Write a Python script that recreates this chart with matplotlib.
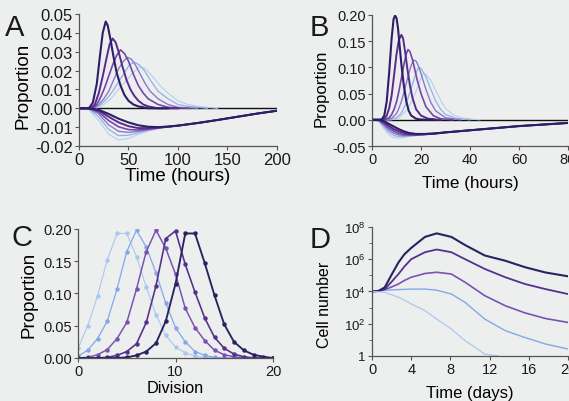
import numpy as np
import matplotlib
matplotlib.use("Agg")
import matplotlib.pyplot as plt
from matplotlib.ticker import FixedLocator, NullFormatter

plt.rcParams["font.family"] = ["Liberation Sans", "DejaVu Sans"]
plt.rcParams["mathtext.default"] = "regular"

BG = "#edefee"

# ---- Panel A: proportion vs time (hours), positive and negative responses ----
A_pos_t = [
    [0, 10, 14, 18, 21, 24, 27, 29, 32, 35, 38, 42, 46, 50, 55, 60, 70, 90],
    [0, 12, 16, 20, 24, 28, 31, 34, 37, 40, 44, 48, 52, 56, 60, 65, 70, 80, 100],
    [0, 14, 18, 22, 26, 30, 34, 38, 42, 46, 50, 55, 60, 65, 70, 80, 90, 110],
    [0, 15, 20, 25, 30, 35, 40, 45, 49, 53, 57, 62, 67, 72, 80, 90, 100, 120],
    [0, 16, 22, 28, 34, 40, 46, 51, 56, 61, 66, 72, 80, 90, 100, 110, 130],
    [0, 18, 25, 32, 40, 48, 55, 61, 67, 74, 82, 90, 100, 110, 120, 140],
]
A_pos_y = [
    [0, 0, 0.003, 0.013, 0.027, 0.040, 0.046, 0.044, 0.036, 0.027, 0.019, 0.012, 0.007, 0.004, 0.002, 0.001, 0, 0],
    [0, 0, 0.002, 0.008, 0.017, 0.027, 0.034, 0.037, 0.035, 0.030, 0.022, 0.015, 0.010, 0.0065, 0.004, 0.002, 0.001, 0, 0],
    [0, 0, 0.002, 0.006, 0.011, 0.017, 0.023, 0.028, 0.031, 0.029, 0.025, 0.018, 0.012, 0.008, 0.005, 0.002, 0.0005, 0],
    [0, 0, 0.002, 0.005, 0.009, 0.015, 0.021, 0.025, 0.027, 0.026, 0.023, 0.018, 0.013, 0.009, 0.005, 0.002, 0.0005, 0],
    [0, 0, 0.002, 0.005, 0.009, 0.014, 0.019, 0.023, 0.0245, 0.023, 0.020, 0.015, 0.009, 0.005, 0.002, 0.001, 0],
    [0, 0, 0.002, 0.005, 0.010, 0.015, 0.019, 0.022, 0.021, 0.017, 0.012, 0.008, 0.004, 0.002, 0.001, 0],
]
A_neg_t = [0, 10, 20, 30, 40, 50, 60, 70, 80, 90, 100, 120, 140, 160, 180, 200]
A_neg_y = [
    [0, 0, -0.0008, -0.0030, -0.0055, -0.0075, -0.0090, -0.0098, -0.0100, -0.0097, -0.0092, -0.0078, -0.0062, -0.0045, -0.0028, -0.0013],
    [0, 0, -0.0012, -0.0045, -0.0075, -0.0095, -0.0105, -0.0105, -0.0102, -0.0097, -0.0092, -0.0078, -0.0062, -0.0045, -0.0028, -0.0013],
    [0, 0, -0.0020, -0.0065, -0.0098, -0.0113, -0.0115, -0.0110, -0.0104, -0.0098, -0.0092, -0.0078, -0.0062, -0.0045, -0.0028, -0.0013],
    [0, 0, -0.0030, -0.0088, -0.0122, -0.0128, -0.0122, -0.0113, -0.0105, -0.0098, -0.0092, -0.0078, -0.0062, -0.0045, -0.0028, -0.0013],
    [0, -0.0003, -0.0045, -0.0112, -0.0145, -0.0143, -0.0130, -0.0117, -0.0107, -0.0099, -0.0092, -0.0078, -0.0062, -0.0045, -0.0028, -0.0013],
    [0, -0.0008, -0.0065, -0.0138, -0.0168, -0.0160, -0.0138, -0.0120, -0.0108, -0.0099, -0.0092, -0.0078, -0.0062, -0.0045, -0.0028, -0.0013],
]

# ---- Panel B: same, shorter time scale ----
B_pos_t = [
    [0, 3, 4, 5, 6, 7, 8, 8.8, 9.4, 10, 10.6, 11.2, 12, 13, 14, 15, 16, 18, 20, 25],
    [0, 4, 5, 6, 7, 8, 9, 10, 11, 12, 12.7, 13.5, 14.5, 15.5, 16.5, 18, 20, 23, 28],
    [0, 5, 7, 8, 9, 10, 11, 12, 13, 14, 14.7, 15.5, 16.5, 17.5, 18.5, 20, 22, 25, 28, 33],
    [0, 6, 8, 10, 11, 12, 13, 14, 15, 16, 17, 18, 19, 20, 22, 24, 26, 30, 36],
    [0, 7, 10, 12, 14, 16, 18, 19, 20, 22, 24, 26, 28, 30, 34, 40],
    [0, 8, 11, 14, 16, 18, 20, 21, 22, 24, 26, 28, 30, 33, 37, 44],
]
B_pos_y = [
    [0, 0, 0.001, 0.008, 0.035, 0.090, 0.155, 0.192, 0.199, 0.194, 0.175, 0.145, 0.105, 0.065, 0.035, 0.017, 0.008, 0.002, 0.0005, 0],
    [0, 0, 0.002, 0.008, 0.022, 0.046, 0.085, 0.125, 0.153, 0.162, 0.155, 0.130, 0.095, 0.065, 0.042, 0.020, 0.008, 0.002, 0],
    [0, 0, 0.004, 0.010, 0.020, 0.034, 0.055, 0.080, 0.105, 0.126, 0.134, 0.130, 0.115, 0.095, 0.075, 0.050, 0.025, 0.008, 0.002, 0],
    [0, 0, 0.003, 0.012, 0.022, 0.035, 0.052, 0.070, 0.088, 0.104, 0.114, 0.112, 0.102, 0.088, 0.058, 0.033, 0.017, 0.004, 0],
    [0, 0, 0.004, 0.013, 0.032, 0.060, 0.090, 0.100, 0.098, 0.082, 0.058, 0.036, 0.020, 0.010, 0.003, 0],
    [0, 0, 0.004, 0.017, 0.033, 0.055, 0.080, 0.088, 0.087, 0.075, 0.056, 0.037, 0.022, 0.010, 0.003, 0],
]
B_neg_t = [0, 3, 5, 7, 9, 11, 13, 15, 18, 22, 26, 30, 40, 50, 60, 70, 80]
B_neg_y = [
    [0, 0, -0.003, -0.008, -0.013, -0.018, -0.022, -0.025, -0.027, -0.027, -0.026, -0.024, -0.020, -0.016, -0.012, -0.009, -0.006],
    [0, -0.0005, -0.005, -0.012, -0.018, -0.022, -0.025, -0.027, -0.028, -0.027, -0.026, -0.024, -0.020, -0.016, -0.012, -0.009, -0.006],
    [0, -0.001, -0.008, -0.016, -0.022, -0.026, -0.028, -0.029, -0.029, -0.028, -0.026, -0.024, -0.020, -0.016, -0.012, -0.009, -0.006],
    [0, -0.002, -0.011, -0.020, -0.026, -0.029, -0.030, -0.030, -0.029, -0.028, -0.026, -0.024, -0.020, -0.016, -0.012, -0.009, -0.006],
    [0, -0.003, -0.014, -0.024, -0.030, -0.032, -0.032, -0.031, -0.030, -0.028, -0.026, -0.024, -0.020, -0.016, -0.012, -0.009, -0.006],
    [0, -0.005, -0.018, -0.029, -0.034, -0.035, -0.034, -0.032, -0.030, -0.028, -0.026, -0.024, -0.020, -0.016, -0.012, -0.009, -0.006],
]

# ---- Panel C: proportion per division number (darkest curve first) ----
C_div = list(range(21))
C_prop = [
    [0, 0, 0, 0, 0, 0.001, 0.004, 0.010, 0.023, 0.057, 0.115, 0.193, 0.193, 0.147, 0.097, 0.052, 0.025, 0.012, 0.005, 0.002, 0],
    [0, 0, 0, 0.001, 0.004, 0.010, 0.022, 0.055, 0.112, 0.185, 0.197, 0.145, 0.102, 0.062, 0.032, 0.015, 0.006, 0.002, 0, 0, 0],
    [0, 0.001, 0.005, 0.013, 0.030, 0.055, 0.107, 0.165, 0.198, 0.170, 0.130, 0.077, 0.047, 0.027, 0.012, 0.005, 0.002, 0, 0, 0, 0],
    [0.003, 0.012, 0.030, 0.057, 0.107, 0.165, 0.198, 0.172, 0.132, 0.085, 0.047, 0.025, 0.010, 0.004, 0.001, 0, 0, 0, 0, 0, 0],
    [0.015, 0.050, 0.096, 0.152, 0.193, 0.193, 0.157, 0.110, 0.067, 0.035, 0.017, 0.008, 0.003, 0.001, 0, 0, 0, 0, 0, 0, 0],
]

# ---- Panel D: cell number vs time (days), log scale ----
D_t = [0, 0.7, 1.3, 2, 2.7, 3.3, 4, 5.4, 6.6, 8.1, 9.5, 11.5, 13.6, 15.6, 17.7, 20]
D_cells = [
    [1.0e4, 1.1e4, 1.8e4, 1.1e5, 6.3e5, 2.0e6, 5.0e6, 2.4e7, 4.0e7, 2.4e7, 7.5e6, 1.7e6, 8.0e5, 3.2e5, 1.5e5, 8.7e4],
    [1.0e4, 1.1e4, 1.4e4, 4.0e4, 1.2e5, 3.5e5, 1.0e6, 2.7e6, 4.0e6, 2.7e6, 1.0e6, 2.5e5, 7.6e4, 2.9e4, 1.4e4, 6.9e3],
    [1.0e4, 1.05e4, 1.3e4, 1.9e4, 2.9e4, 4.8e4, 7.6e4, 1.3e5, 1.55e5, 1.2e5, 3.7e4, 5.5e3, 1.3e3, 4.7e2, 2.1e2, 1.2e2],
    [1.0e4, 1.05e4, 1.2e4, 1.25e4, 1.3e4, 1.35e4, 1.4e4, 1.4e4, 1.2e4, 6.9e3, 2.1e3, 1.95e2, 37, 14, 5.5, 2.7],
]
D_t_low = [0, 1.3, 2.7, 4, 5.4, 6.6, 8.1, 9.5, 10.5, 11.5, 12.9]
D_cells_low = [1.0e4, 8.9e3, 4.4e3, 1.7e3, 6.5e2, 1.95e2, 47, 8.9, 3.5, 1.3, 1.0]

COLORS6 = ["#2c1f66", "#5a2a8c", "#7446a8", "#8a78cc", "#92b0e6", "#b6cef0"]
WIDTHS6 = [1.5, 1.4, 1.2, 1.0, 0.9, 0.8]
COLORS5 = ["#2a2260", "#55308c", "#7a52b4", "#82a8e8", "#aac8f0"]
WIDTHS5 = [1.5, 1.3, 1.2, 1.0, 0.9]


def style_axes(ax, tick_size):
    ax.set_facecolor("none")
    for s in ["top", "right"]:
        ax.spines[s].set_visible(False)
    for s in ["left", "bottom"]:
        ax.spines[s].set_color("#555555")
        ax.spines[s].set_linewidth(0.9)
    ax.tick_params(direction="out", length=3, width=0.8, color="#555555",
                   labelsize=tick_size, labelcolor="#1a1a1a", pad=1.5)


fig = plt.figure(figsize=(5.69, 4.02), dpi=100, facecolor=BG)

# Panel A
axA = fig.add_axes([0.1388, 0.6343, 0.348, 0.3284])
style_axes(axA, 12)
axA.axhline(0, color="#111111", lw=1.0, zorder=1)
for i in reversed(range(6)):
    axA.plot(A_neg_t, A_neg_y[i], color=COLORS6[i], lw=WIDTHS6[i], zorder=2)
    axA.plot(A_pos_t[i], A_pos_y[i], color=COLORS6[i], lw=WIDTHS6[i], zorder=2)
axA.set_xlim(0, 200)
axA.set_ylim(-0.02, 0.05)
axA.set_xticks([0, 50, 100, 150, 200])
axA.set_yticks([-0.02, -0.01, 0.0, 0.01, 0.02, 0.03, 0.04, 0.05])
axA.set_yticklabels(["-0.02", "-0.01", "0.00", "0.01", "0.02", "0.03", "0.04", "0.05"])
axA.set_xlabel("Time (hours)", fontsize=13.5, labelpad=0)
axA.set_ylabel("Proportion", fontsize=13.5, labelpad=1)
axA.yaxis.set_label_coords(-0.24, 0.46)

# Panel B
axB = fig.add_axes([0.6538, 0.6343, 0.3445, 0.326])
style_axes(axB, 10.5)
axB.axhline(0, color="#111111", lw=1.0, zorder=1)
for i in reversed(range(6)):
    axB.plot(B_neg_t, B_neg_y[i], color=COLORS6[i], lw=WIDTHS6[i], zorder=2)
    axB.plot(B_pos_t[i], B_pos_y[i], color=COLORS6[i], lw=WIDTHS6[i], zorder=2)
axB.set_xlim(0, 80)
axB.set_ylim(-0.05, 0.20)
axB.set_xticks([0, 20, 40, 60, 80])
axB.set_yticks([-0.05, 0.0, 0.05, 0.10, 0.15, 0.20])
axB.set_yticklabels(["-0.05", "0.00", "0.05", "0.10", "0.15", "0.20"])
axB.set_xlabel("Time (hours)", fontsize=12.3, labelpad=6)
axB.set_ylabel("Proportion", fontsize=12, labelpad=3)
axB.yaxis.set_label_coords(-0.22, 0.45)

# Panel C
axC = fig.add_axes([0.1371, 0.107, 0.3427, 0.321])
style_axes(axC, 10.5)
for i in reversed(range(5)):
    axC.plot(C_div, C_prop[i], color=COLORS5[i], lw=WIDTHS5[i] * 0.9,
             marker="o", ms=2.2, mec=COLORS5[i], mfc=COLORS5[i], zorder=2)
axC.set_xlim(0, 20)
axC.set_ylim(0, 0.20)
axC.set_xticks([0, 10, 20])
axC.set_yticks([0.0, 0.05, 0.10, 0.15, 0.20])
axC.set_yticklabels(["0.00", "0.05", "0.10", "0.15", "0.20"])
axC.set_xlabel("Division", fontsize=11.7, labelpad=1)
axC.set_ylabel("Proportion", fontsize=13.5, labelpad=4)

# Panel D
axD = fig.add_axes([0.6538, 0.112, 0.3445, 0.321])
style_axes(axD, 10.5)
for i in reversed(range(4)):
    axD.plot(D_t, D_cells[i], color=COLORS5[i], lw=WIDTHS5[i], zorder=2)
axD.plot(D_t_low, D_cells_low, color=COLORS5[4], lw=WIDTHS5[4], zorder=2)
axD.set_yscale("log")
axD.set_xlim(0, 20)
axD.set_ylim(1, 1e8)
axD.set_xticks([0, 4, 8, 12, 16, 20])
axD.yaxis.set_major_locator(FixedLocator([1, 1e2, 1e4, 1e6, 1e8]))
axD.set_yticklabels(["1", "$10^2$", "$10^4$", "$10^6$", "$10^8$"], fontsize=9.5)
axD.yaxis.set_minor_locator(FixedLocator([10, 1e3, 1e5, 1e7]))
axD.yaxis.set_minor_formatter(NullFormatter())
axD.tick_params(axis="y", which="minor", length=2, color="#555555")
axD.set_xlabel("Time (days)", fontsize=12, labelpad=6)
axD.set_ylabel("Cell number", fontsize=11.5)
axD.yaxis.set_label_coords(-0.205, 0.40)

# Panel letters
for txt, x, y in [("A", 0.008, 0.965), ("B", 0.545, 0.965),
                  ("C", 0.020, 0.443), ("D", 0.545, 0.437)]:
    fig.text(x, y, txt, fontsize=21, ha="left", va="top", color="#1a1a1a")

fig.savefig("out.png", dpi=100, facecolor=BG)
